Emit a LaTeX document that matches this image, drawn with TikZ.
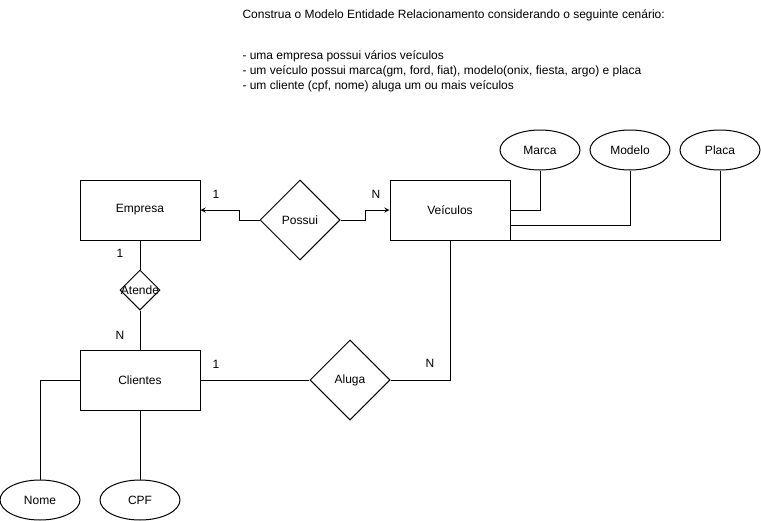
\documentclass[tikz,border=0pt]{standalone}
\usepackage{fontspec}
\setmainfont{Liberation Sans}
\usetikzlibrary{shapes.geometric}
\begin{document}
\begin{tikzpicture}[>=stealth,x=0.75pt,y=-0.75pt,line width=0.75pt,
  font=\fontsize{9}{11}\selectfont,
  entity/.style={draw,minimum width=90pt,minimum height=45pt,inner sep=0pt},
  relation/.style={draw,diamond,inner sep=0pt,minimum width=60pt,minimum height=60pt},
  attrib/.style={draw,ellipse,inner sep=0pt,minimum width=60pt,minimum height=30pt},
  card/.style={inner sep=0pt},
  texto/.style={anchor=west,inner sep=0pt}]
\useasboundingbox (0,0) rectangle (761,521);
% enunciado
\node[texto] (titulo) at (242,15) {Construa o Modelo Entidade Relacionamento considerando o seguinte cenário:};
\node[texto] (item1) at (242,56) {- uma empresa possui vários veículos};
\node[texto] (item2) at (242,71) {- um veículo possui marca(gm, ford, fiat), modelo(onix, fiesta, argo) e placa};
\node[texto] (item3) at (242,86) {- um cliente (cpf, nome) aluga um ou mais veículos};
% entidades e relacionamentos
\node[entity] (Empresa) at (140,210) {Empresa};
\node[entity] (Veiculos) at (450,210) {Veículos};
\node[entity] (Clientes) at (140,380) {Clientes};
\node[relation] (Possui) at (300,220) {Possui};
\node[relation] (Aluga) at (350,380) {Aluga};
\node[relation,minimum width=30pt,minimum height=30pt,label=center:Atende] (Atende) at (140,290) {};
% atributos
\node[attrib] (Marca) at (540,150) {Marca};
\node[attrib] (Modelo) at (630,150) {Modelo};
\node[attrib] (Placa) at (720,150) {Placa};
\node[attrib] (Nome) at (40,500) {Nome};
\node[attrib] (CPF) at (140,500) {CPF};
% cardinalidades
\node[card] (c1) at (216,194) {1};
\node[card] (c2) at (376,194) {N};
\node[card] (c3) at (120,253) {1};
\node[card] (c4) at (120,335) {N};
\node[card] (c5) at (216,364) {1};
\node[card] (c6) at (430,363) {N};
% ligacoes
\draw[->] (Possui.west) -- ++(-20,0) |- (Empresa.east);
\draw[->] (Possui.east) -- ++(25,0) |- (Veiculos.west);
\draw (Empresa) -- (Atende);
\draw (Atende) -- (Clientes);
\draw (Clientes) -- (Aluga);
\draw (Veiculos.south) |- (Aluga.east);
\draw (Veiculos.east) -| (Marca.south);
\draw ([yshift=-11.25pt]Veiculos.east) -| (Modelo.south);
\draw (Veiculos.south east) -| (Placa.south);
\draw (Clientes.west) -| (Nome.north);
\draw (Clientes) -- (CPF);
\end{tikzpicture}
\end{document}
